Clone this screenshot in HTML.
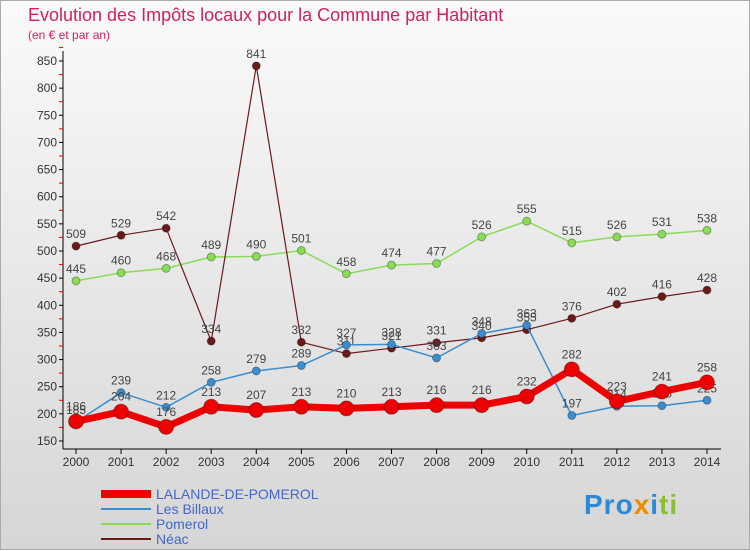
<!DOCTYPE html>
<html><head><meta charset="utf-8">
<style>
body{margin:0;width:750px;height:550px;overflow:hidden;font-family:"Liberation Sans",sans-serif;}
#wrap{position:relative;width:748px;height:548px;border:1px solid #aaa;background:linear-gradient(#fafafa,#d6d6d6);}
.t{position:absolute;white-space:nowrap}
</style></head><body>
<div id="wrap">
<div class="t" style="left:27px;top:4px;font-size:18px;color:#d02060">Evolution des Impôts locaux pour la Commune par Habitant</div>
<div class="t" style="left:27px;top:27px;font-size:12px;color:#d02060">(en € et par an)</div>
<svg id="c" width="750" height="550" style="position:absolute;left:0;top:0"></svg>
<div class="t" style="left:583px;top:488px;font-size:28px;font-weight:bold;letter-spacing:1px"><span style="color:#2a8ad8">Pro</span><span style="color:#f08a00">x</span><span style="color:#2a8ad8">i</span><span style="color:#8ac030">ti</span></div>
</div>
<script>
const years=[2000,2001,2002,2003,2004,2005,2006,2007,2008,2009,2010,2011,2012,2013,2014];
const yTicks=[150,200,250,300,350,400,450,500,550,600,650,700,750,800,850];
const lalande=[186,204,176,213,207,213,210,213,216,216,232,282,223,241,258];
const billaux=[185,239,212,258,279,289,327,328,303,348,363,197,214,215,225];
const pomerol=[445,460,468,489,490,501,458,474,477,526,555,515,526,531,538];
const neac=[509,529,542,334,841,332,311,321,331,340,355,376,402,416,428];
const NS="http://www.w3.org/2000/svg",svg=document.getElementById('c');
const x=i=>75+i*(706-75)/14, y=v=>440-(v-150)*380/700;
function el(t,a,n){const e=document.createElementNS(NS,t);for(const k in a)e.setAttribute(k,a[k]);


svg.appendChild(e);return e;}
el('line',{x1:62,y1:50,x2:62,y2:448,stroke:'#000','stroke-width':1},'y-axis');
el('line',{x1:62,y1:448,x2:720,y2:448,stroke:'#000','stroke-width':1},'x-axis');
yTicks.forEach(v=>{el('line',{x1:58,y1:y(v),x2:62,y2:y(v),stroke:'#000'},'y-tick');
el('line',{x1:58,y1:y(v+25),x2:62,y2:y(v+25),stroke:'#e00'},'y-minor-tick');
const t=el('text',{x:56,y:y(v)+4,'text-anchor':'end','font-size':12,fill:'#333'},'y-tick-label');t.textContent=v;});
years.forEach((yr,i)=>{el('line',{x1:x(i),y1:448,x2:x(i),y2:453,stroke:'#000'},'x-tick');
const t=el('text',{x:x(i),y:465,'text-anchor':'middle','font-size':12,fill:'#333'},'x-tick-label');t.textContent=yr;});
function series(d,col,w,r,name){
el('polyline',{points:d.map((v,i)=>x(i)+','+y(v)).join(' '),fill:'none',stroke:col,'stroke-width':w,'stroke-linejoin':'round'},name+'-line');
d.forEach((v,i)=>{el('circle',{cx:x(i),cy:y(v),r:r,fill:col,stroke:'rgba(0,0,0,0.3)'},name+'-point');
const t=el('text',{x:x(i),y:y(v)-8-(r>5?3:0),'text-anchor':'middle','font-size':12,fill:'#444'},name+'-value-label');t.textContent=v;});}
series(pomerol,'#88dd55',1.5,4,'pomerol');
series(neac,'#6b1a1a',1.2,4,'neac');
series(billaux,'#3a8ed0',1.5,4,'les-billaux');
series(lalande,'#ee0000',7,7.5,'lalande');
const leg=[['LALANDE-DE-POMEROL','#ee0000',8],['Les Billaux','#3a8ed0',2],['Pomerol','#88dd55',2],['Néac','#6b1a1a',2]];
leg.forEach((l,i)=>{const yy=493+i*15;
el('line',{x1:100,y1:yy,x2:150,y2:yy,stroke:l[1],'stroke-width':l[2]},'legend-swatch');
const t=el('text',{x:155,y:yy+5,'font-size':14,fill:'#4466cc'},'legend-label');t.textContent=l[0];});
</script>
</body></html>
